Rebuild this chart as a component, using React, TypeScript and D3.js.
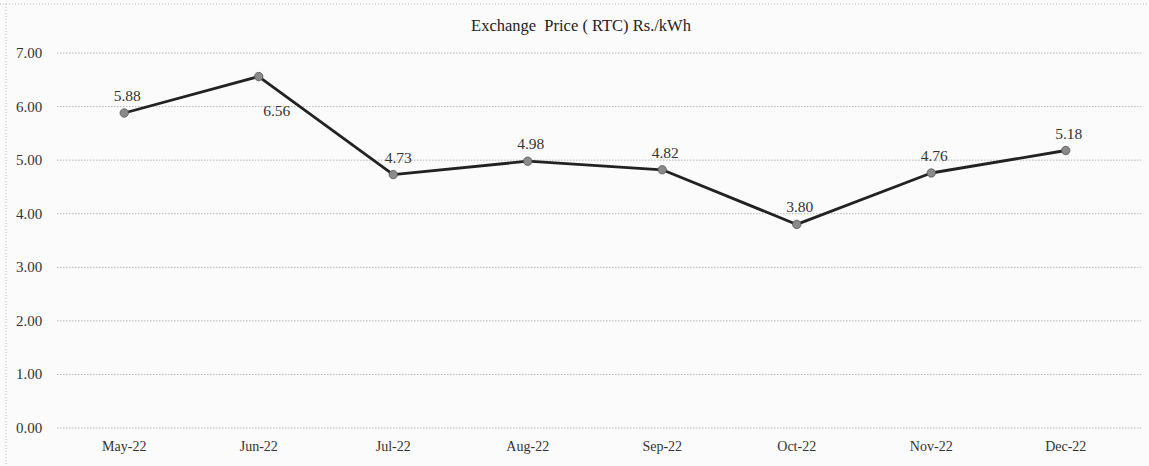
import React from "react";
import * as d3 from "d3";

const months = ["May-22", "Jun-22", "Jul-22", "Aug-22", "Sep-22", "Oct-22", "Nov-22", "Dec-22"];
const prices = [5.88, 6.56, 4.73, 4.98, 4.82, 3.8, 4.76, 5.18];
const yTicks = [0, 1, 2, 3, 4, 5, 6, 7];
const title = "Exchange  Price ( RTC) Rs./kWh";

const W = 1149;
const H = 466;
const margin = { left: 57, right: 16, top: 53, bottom: 38 };

export default function App() {
  const x = d3
    .scaleBand<string>()
    .domain(months)
    .range([margin.left, W - margin.right])
    .paddingInner(0)
    .paddingOuter(0);
  const y = d3.scaleLinear().domain([0, 7]).range([H - margin.bottom, margin.top]);
  const cx = (m: string) => (x(m) ?? 0) + x.bandwidth() / 2;

  const line = d3
    .line<number>()
    .x((_, i) => cx(months[i]))
    .y((d) => y(d));

  const font = "'Liberation Serif', 'Times New Roman', serif";

  const labelOffset = (i: number) => {
    if (i === 1) return { dx: 18, dy: 39 };
    if (i === 2) return { dx: 5, dy: -12 };
    return { dx: 3, dy: -12 };
  };

  return (
    <svg
      width={W}
      height={H}
      style={{ position: "absolute", left: 0, top: 0, background: "#fbfbfb", fontFamily: font }}
    >
      <rect x={0} y={0} width={W} height={H} fill="#fbfbfb" />
      <line x1={0} x2={W} y1={4} y2={4} stroke="#bbb" strokeDasharray="1,2" />
      <line x1={6} x2={6} y1={4} y2={H} stroke="#bbb" strokeDasharray="1,2" />
      <text x={581} y={31} textAnchor="middle" fontSize={16.5} fill="#222" style={{ whiteSpace: "pre" }}>
        {title}
      </text>
      {yTicks.map((t) => (
        <g key={t}>
          <line
            x1={margin.left}
            x2={W - 8}
            y1={y(t)}
            y2={y(t)}
            stroke="#b5b5b5"
            strokeWidth={1}
            strokeDasharray="1.5,1.5"
          />
          <text x={16} y={y(t) + 5} fontSize={15} fill="#333">
            {d3.format(".2f")(t)}
          </text>
        </g>
      ))}
      {months.map((m) => (
        <text key={m} x={cx(m)} y={451} textAnchor="middle" fontSize={14} fill="#333">
          {m}
        </text>
      ))}
      <path d={line(prices) ?? ""} fill="none" stroke="#222" strokeWidth={2.8} strokeLinejoin="round" />
      {prices.map((v, i) => (
        <circle key={i} cx={cx(months[i])} cy={y(v)} r={4.2} fill="#8a8a8a" stroke="#555" strokeWidth={0.8} />
      ))}
      {prices.map((v, i) => {
        const o = labelOffset(i);
        return (
          <text
            key={"l" + i}
            x={cx(months[i]) + o.dx}
            y={y(v) + o.dy}
            textAnchor="middle"
            fontSize={15.5}
            fill="#333"
          >
            {d3.format(".2f")(v)}
          </text>
        );
      })}
    </svg>
  );
}
